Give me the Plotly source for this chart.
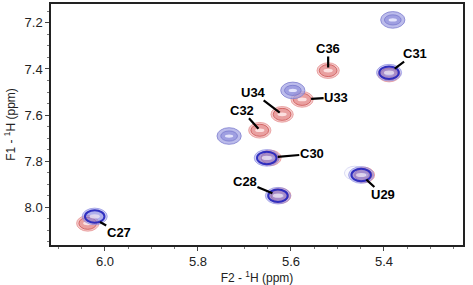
import plotly.graph_objects as go

# ---- data (ppm) ----
blue_x = [5.381, 5.389, 5.596, 5.733, 5.652, 5.628, 5.449, 6.022]
blue_y = [7.187, 7.416, 7.493, 7.691, 7.786, 7.950, 7.860, 8.040]
blue_strong = [0, 1, 0, 0, 1, 1, 1, 1]

red_x = [5.389, 5.520, 5.576, 5.619, 5.667, 5.645, 5.624, 5.444, 6.037]
red_y = [7.422, 7.407, 7.532, 7.597, 7.666, 7.786, 7.950, 7.860, 8.070]

labels = ["C36", "C31", "U34", "U33", "C32", "C30", "C28", "U29", "C27"]
label_x = [5.520, 5.389, 5.619, 5.576, 5.667, 5.652, 5.628, 5.449, 6.022]
label_y = [7.407, 7.416, 7.597, 7.532, 7.666, 7.786, 7.950, 7.860, 8.052]
# label offsets (pixels) and standoffs
label_ax = [0, 26, -29, 34, -18, 45, -33, 22, 24]
label_ay = [-22, -19, -22, -2, -20, -4, -14, 20, 13]
label_so = [3, 7, 3, 9, 2, 11, 6, 7, 6]

xticks = [6.0, 5.8, 5.6, 5.4]
yticks = [7.2, 7.4, 7.6, 7.8, 8.0]

fig = go.Figure()
shapes = []

def ell(cx, cy, rx, ry, fill, line, lw):
    shapes.append(dict(type="circle", xref="x", yref="y",
                       x0=cx - rx, x1=cx + rx, y0=cy - ry, y1=cy + ry,
                       fillcolor=fill, line=dict(color=line, width=lw), layer="above"))

# red peaks (drawn first)
for cx, cy in zip(red_x, red_y):
    ell(cx, cy, 0.024, 0.034, "rgba(236,165,165,0.6)", "rgba(228,140,140,0.7)", 1)
    ell(cx, cy, 0.019, 0.026, "rgba(222,120,120,0.5)", "rgba(205,85,85,0.8)", 1)
    ell(cx, cy, 0.010, 0.008, "rgba(255,235,235,0.85)", "rgba(255,255,255,0)", 0)

# faint ghost contour near U29
ell(5.463, 7.852, 0.022, 0.030, "rgba(215,215,245,0.15)", "rgba(180,180,230,0.45)", 1)

# blue peaks
for cx, cy, s in zip(blue_x, blue_y, blue_strong):
    if s:
        ell(cx, cy, 0.027, 0.036, "rgba(150,150,230,0.45)", "rgba(140,140,225,0.7)", 1)
        ell(cx, cy, 0.021, 0.027, "rgba(100,100,215,0.3)", "rgba(40,40,190,0.95)", 2)
        ell(cx, cy, 0.011, 0.009, "rgba(235,225,240,0.8)", "rgba(255,255,255,0)", 0)
    else:
        ell(cx, cy, 0.026, 0.036, "rgba(165,165,228,0.75)", "rgba(130,130,208,0.85)", 1)
        ell(cx, cy, 0.018, 0.022, "rgba(140,140,218,0.6)", "rgba(115,115,202,0.7)", 1)
        ell(cx, cy, 0.009, 0.007, "rgba(240,240,255,0.85)", "rgba(255,255,255,0)", 0)

# invisible scatter to anchor axes
fig.add_trace(go.Scatter(x=blue_x + red_x, y=blue_y + red_y, mode="markers",
                         marker=dict(size=1, color="rgba(0,0,0,0)"),
                         hoverinfo="skip", showlegend=False))

annotations = []
for t, x, y, ax, ay, so in zip(labels, label_x, label_y, label_ax, label_ay, label_so):
    annotations.append(dict(x=x, y=y, xref="x", yref="y", text="<b>%s</b>" % t,
                            showarrow=True, arrowhead=0, arrowwidth=2.2,
                            arrowcolor="black", ax=ax, ay=ay, standoff=so,
                            font=dict(family="Liberation Sans, Arial, sans-serif",
                                      size=13, color="black"),
                            borderpad=0))

fig.update_layout(
    width=473, height=285,
    margin=dict(l=51, r=10, t=2, b=40),
    paper_bgcolor="white", plot_bgcolor="white",
    shapes=shapes, annotations=annotations,
    font=dict(family="Liberation Sans, Arial, sans-serif", size=13, color="#222"),
)
fig.update_xaxes(range=[6.116, 5.23], tickvals=xticks, ticktext=["%.1f" % v for v in xticks],
                 ticks="outside", ticklen=4, tickcolor="#444", showgrid=False, zeroline=False,
                 showline=True, linecolor="#222", linewidth=1.5, mirror=True,
                 minor=dict(dtick=0.05, tick0=6.0, ticks="outside", ticklen=2, tickcolor="#777"),
                 title=dict(text="F2 - <sup>1</sup>H (ppm)", font=dict(size=12), standoff=2),
                 tickfont=dict(size=13))
fig.update_yaxes(range=[8.164, 7.118], tickvals=yticks, ticktext=["%.1f" % v for v in yticks],
                 ticks="outside", ticklen=4, tickcolor="#444", showgrid=False, zeroline=False,
                 showline=True, linecolor="#222", linewidth=1.5, mirror=True,
                 minor=dict(dtick=0.05, tick0=7.2, ticks="outside", ticklen=2, tickcolor="#777"),
                 title=dict(text="F1 - <sup>1</sup>H (ppm)", font=dict(size=12), standoff=6),
                 tickfont=dict(size=13))

fig.write_html("out.html")
